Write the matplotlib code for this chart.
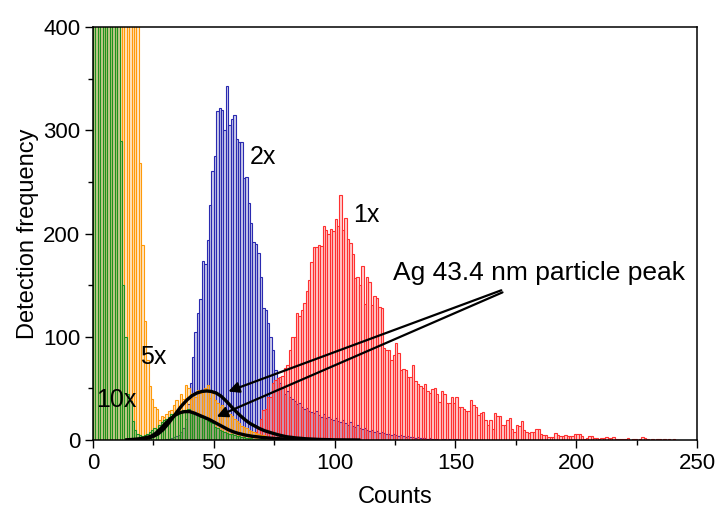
import numpy as np
import matplotlib
matplotlib.use("Agg")
import matplotlib.pyplot as plt
from matplotlib.ticker import MultipleLocator

plt.rcParams['font.family'] = ['Liberation Sans', 'DejaVu Sans']

# histogram counts, one bin per count value (bin width = 1)
# 10x dilution, bins starting at 0 (first bins run far off the top)
green_start = 0
green_vals = [2600, 3100, 3000, 2700, 2300, 1900, 1500, 1150, 850, 620, 450,
              290, 150, 100, 45, 38, 18, 10, 6, 5, 4, 5, 6, 8, 10,
              12, 11, 15, 17, 19, 20, 22, 25, 24, 26, 27, 28, 29, 27, 30,
              28, 27, 25, 24, 22, 23, 20, 18, 17, 16, 13, 12, 10, 9, 8,
              7, 6, 6, 5, 4, 4, 3, 3, 2, 2, 2, 1, 1, 1, 1, 1]

# 5x dilution
orange_start = 0
orange_vals = [900, 1350, 1700, 1850, 1900, 1850, 1750, 1600, 1450, 1300,
               1150, 1000, 880, 770, 680, 600, 530, 470, 420,
               268, 189, 115, 77, 52, 40, 32, 30, 19, 23, 22,
               25, 28, 29, 34, 39, 33, 45, 40, 53, 50,
               40, 46, 42, 48, 46, 48, 50, 53, 41, 46,
               39, 36, 32, 34, 29, 27, 25, 23, 20, 18,
               16, 14, 13, 12, 10, 9, 8, 7, 6, 5,
               5, 4, 3, 3, 2, 2, 2, 1, 1, 1, 1]

# 2x dilution
blue_start = 30
blue_vals = [1, 1, 2, 3, 4, 5, 8, 12, 20, 35,
             55, 80, 105, 123, 137, 173, 170, 194, 228, 261,
             275, 319, 322, 320, 300, 343, 305, 311, 315, 292,
             289, 289, 254, 255, 230, 210, 192, 190, 181, 158,
             128, 126, 113, 100, 87, 68, 60, 55, 50, 45,
             47, 42, 40, 38, 35, 36, 32, 30, 31, 28,
             27, 26, 28, 24, 22, 25, 21, 22, 20, 19,
             21, 18, 17, 19, 16, 15, 17, 14, 13, 15,
             12, 11, 12, 10, 9, 10, 8, 9, 7, 8,
             7, 6, 6, 5, 6, 5, 4, 5, 4, 3,
             4, 3, 3, 2, 3, 2, 2, 2, 1, 2,
             1, 1, 1, 0, 1, 1, 0, 1, 0, 1, 1]

# 1x (undiluted)
red_start = 64
red_vals = [2, 3, 5, 8, 12, 20, 29, 30, 42, 42,
            55, 58, 60, 61, 62, 70,
            73, 87, 100, 100, 123, 120, 126, 133, 144, 155,
            172, 187, 187, 189, 188, 207, 203, 200, 204, 202,
            214, 207, 237, 203, 215, 195, 191, 180, 157, 158,
            150, 169, 132, 158, 153, 131, 139, 138, 129, 128,
            89, 87, 87, 77, 82, 94, 84, 68, 69, 68,
            61, 61, 73, 57, 54, 52, 50, 54, 47, 46,
            49, 50, 45, 37, 47, 45, 36, 36, 42, 36,
            42, 32, 32, 30, 28, 28, 39, 34, 32, 24,
            26, 27, 19, 15, 19, 11, 26, 23, 23, 15,
            15, 19, 21, 11, 8, 15, 14, 18, 10, 8,
            7, 8, 8, 11, 11, 6, 5, 5, 3, 3,
            3, 7, 5, 4, 4, 5, 4, 4, 4, 6,
            6, 6, 4, 1, 2, 4, 4, 2, 2, 1,
            2, 2, 3, 2, 2, 3, 1, 1, 1, 1,
            1, 2, 0, 1, 1, 0, 1, 3, 2, 1,
            0, 1, 0, 1, 1, 0, 1, 0, 1, 0, 1]

# peak fits
fit5_x = [16, 20, 23, 25, 27, 29, 31, 33, 35, 37, 39, 41, 43, 45, 47, 49,
          51, 53, 55, 57, 59, 61, 63, 65, 67, 69, 71, 74, 77, 80, 84, 88,
          94, 100, 110]
fit5_y = [0.2, 0.8, 2, 3.5, 6, 10, 15.5, 21.5, 28, 34, 39, 43, 45.5, 47,
          47.5, 47, 45.5, 42.5, 38, 33, 28, 23.5, 19.5, 16, 13.5, 11, 9,
          6.8, 4.8, 3.2, 2, 1.2, 0.5, 0.2, 0]
fit10_x = [14, 18, 21, 24, 26, 28, 30, 32, 34, 36, 38, 40, 42, 44, 46, 48,
           50, 52, 54, 56, 58, 60, 63, 66, 70, 75, 80, 88, 98]
fit10_y = [0.2, 0.8, 1.8, 3.5, 6.5, 11, 16, 20.5, 24, 26.5, 27.5, 27.5, 26,
           24, 22, 20, 17.5, 15, 12.5, 10, 8, 6.5, 4.8, 3.6, 2.5, 1.5, 0.9,
           0.4, 0.1]


def draw_hist(ax, start, vals, color):
    x = np.arange(start, start + len(vals))
    ax.bar(x, vals, width=1, align='edge',
           facecolor=matplotlib.colors.to_rgba(color, 0.22),
           edgecolor=color, linewidth=0.8, zorder=2)


fig = plt.figure(figsize=(7.18, 5.11), dpi=100)
ax = fig.add_axes([93 / 718, 71 / 511, 604 / 718, 413 / 511])

draw_hist(ax, blue_start, blue_vals, '#2a2ab0')
draw_hist(ax, red_start, red_vals, '#ff3030')
draw_hist(ax, orange_start, orange_vals, '#ff9a0a')
draw_hist(ax, green_start, green_vals, '#1e921e')

ax.plot(fit5_x, fit5_y, color='black', lw=2.4, zorder=4)
ax.plot(fit10_x, fit10_y, color='black', lw=2.4, zorder=4)

ax.set_xlim(0, 250)
ax.set_ylim(0, 400)
ax.xaxis.set_major_locator(MultipleLocator(50))
ax.xaxis.set_minor_locator(MultipleLocator(25))
ax.yaxis.set_major_locator(MultipleLocator(100))
ax.yaxis.set_minor_locator(MultipleLocator(50))
ax.tick_params(which='major', direction='out', length=6, width=1,
               labelsize=16, pad=3)
ax.tick_params(which='minor', direction='out', length=3.5, width=1)
for s in ax.spines.values():
    s.set_linewidth(1.1)

ax.set_xlabel('Counts', fontsize=17, labelpad=9)
ax.set_ylabel('Detection frequency', fontsize=17, labelpad=3)

txt = dict(fontsize=18, va='center', ha='left', zorder=5)
ax.text(65, 274, '2x', **txt)
ax.text(107.6, 218, '1x', **txt)
ax.text(19.5, 80, '5x', **txt)
ax.text(1.2, 39, '10x', **txt)
ax.text(124.2, 162, 'Ag 43.4 nm particle peak', fontsize=19, va='center',
        ha='left', zorder=5)

arrow = dict(arrowstyle='-|>', color='black', lw=1.6, mutation_scale=16,
             shrinkA=0, shrinkB=0)
ax.annotate('', xy=(56, 47), xytext=(169, 145), arrowprops=arrow, zorder=6)
ax.annotate('', xy=(51.2, 22.6), xytext=(169.5, 143), arrowprops=arrow,
            zorder=6)

fig.savefig('out.png', dpi=100)
